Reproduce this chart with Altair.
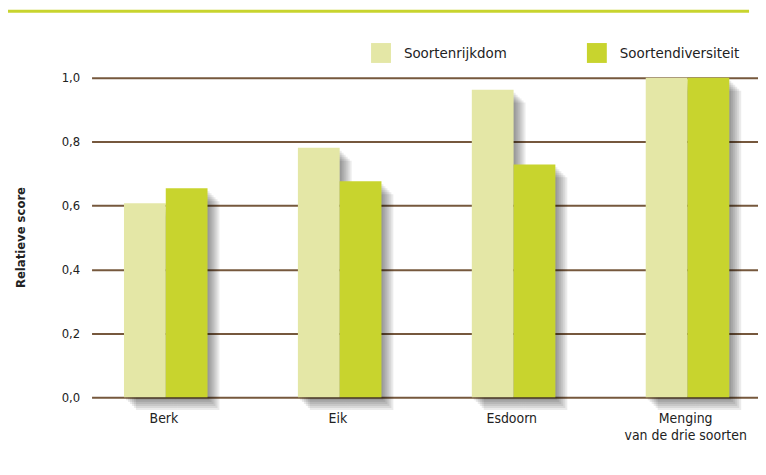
import altair as alt
import pandas as pd

categories = ["Berk", "Eik", "Esdoorn", "Menging van de drie soorten"]
series = ["Soortenrijkdom", "Soortendiversiteit"]
rijkdom = [0.607, 0.781, 0.963, 1.0]
diversiteit = [0.654, 0.676, 0.729, 1.0]
colors = ["#e4e7a6", "#c8d42e"]
y_ticks = [0, 0.2, 0.4, 0.6, 0.8, 1.0]

rows = []
for c, r, d in zip(categories, rijkdom, diversiteit):
    rows.append({"cat": c, "serie": series[0], "waarde": r})
    rows.append({"cat": c, "serie": series[1], "waarde": d})
df = pd.DataFrame(rows)

FONT = "Liberation Sans Narrow, DejaVu Sans Condensed, sans-serif"
GRID = "#76583d"
GROUP_W = 84
BASE_SHIFT = 2

x_enc = alt.X(
    "cat:N", sort=categories, title=None,
    scale=alt.Scale(paddingInner=0.518, paddingOuter=0.175),
    axis=alt.Axis(
        labelAngle=0, domain=False, ticks=False, labelPadding=14,
        labelFontSize=14, labelLineHeight=18, labelColor="#222222", labelFont=FONT,
        labelExpr="datum.value == 'Menging van de drie soorten' ? ['Menging', 'van de drie soorten'] : datum.value",
    ),
)
y_enc = alt.Y(
    "waarde:Q", title="Relatieve score",
    scale=alt.Scale(domain=[0, 1], nice=False),
    axis=alt.Axis(
        values=y_ticks, domain=False, ticks=False, grid=True,
        gridColor=GRID, gridWidth=2, gridOpacity=1,
        labelExpr="replace(format(datum.value, '.1f'), '.', ',')",
        labelFontSize=13, labelColor="#222222", labelFont=FONT, labelPadding=12,
        titleFont=FONT, titleFontSize=13, titleFontWeight="bold", titleColor="#222222",
        titleX=-64, titleY=160, titleAngle=-90, titleBaseline="bottom", titleAlign="center",
    ),
)


def xoff(shift):
    s = shift + BASE_SHIFT
    return alt.XOffset("serie:N", sort=series,
                       scale=alt.Scale(paddingInner=0, range=[s, s + GROUP_W]))


shadow_specs = [(2, 3, 7), (4, 5, 10), (6, 7, 13), (8, 9, 16), (10, 11, 19), (12, 13, 21)]
shadows = [
    alt.Chart(df).mark_bar(color="black", opacity=0.08, yOffset=dt, y2Offset=db)
    .encode(x=x_enc, y=y_enc, xOffset=xoff(dx))
    for dx, dt, db in shadow_specs
]

bars = alt.Chart(df).mark_bar().encode(
    x=x_enc, y=y_enc, xOffset=xoff(0),
    color=alt.Color(
        "serie:N", sort=series,
        scale=alt.Scale(domain=series, range=colors),
        legend=alt.Legend(
            title=None, orient="none", legendX=281, legendY=-35, direction="horizontal",
            symbolType="square", symbolSize=400, symbolStrokeWidth=0, symbolOpacity=1,
            labelFontSize=15, labelFont=FONT, labelColor="#222222", labelOffset=13,
            columnPadding=80, padding=0,
        ),
    ),
)

topline = alt.Chart(pd.DataFrame({"a": [0]})).mark_rule(color="#c8d42e", strokeWidth=3).encode(
    x=alt.value(-84), x2=alt.value(661), y=alt.value(-67)
)

chart = alt.layer(*shadows, bars, topline).resolve_scale(xOffset="independent").properties(
    width=670, height=321,
    padding={"left": 84, "top": 69, "right": 0, "bottom": 70},
    autosize=alt.AutoSizeParams(type="none"),
).configure_view(stroke=None)

chart.save("out.html", embed_options={"renderer": "svg", "actions": False})
